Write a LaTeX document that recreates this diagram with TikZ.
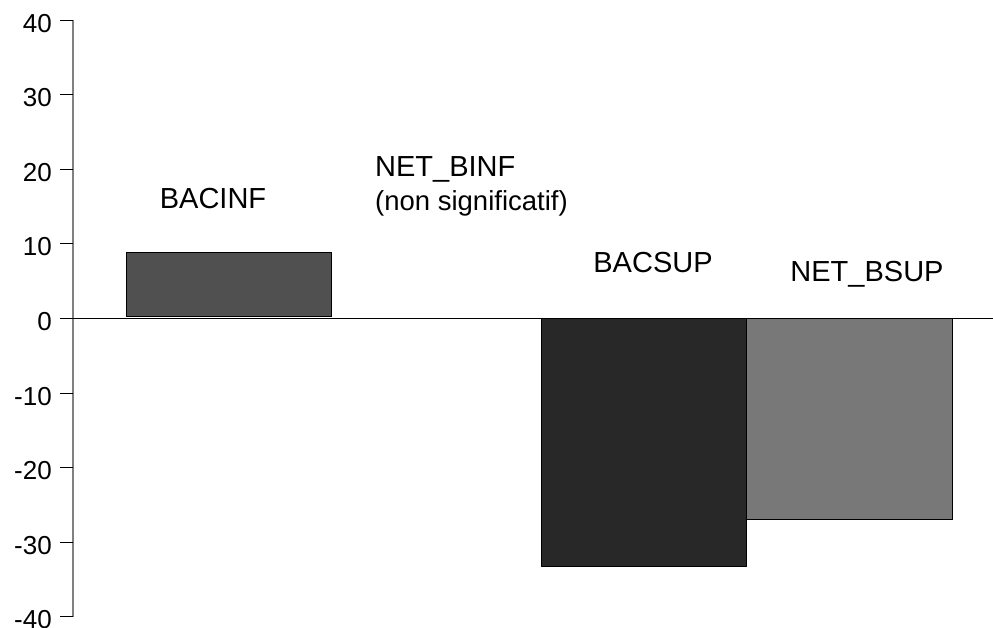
\documentclass[tikz,border=0pt]{standalone}
\usepackage{fontspec}
\setmainfont{Liberation Sans}
\usetikzlibrary{calc}

\begin{document}
\begin{tikzpicture}[x=1pt,y=7.46pt,
	bar/.style={draw=black, line width=0.8pt},
	barlabel/.style={anchor=base, inner sep=0pt, font=\fontsize{29}{34}\selectfont},
	ticklabel/.style={anchor=east, inner sep=0pt, font=\fontsize{26}{30}\selectfont}]
	\useasboundingbox (-73, 42.69) rectangle (920, -41.49);
	\coordinate (O) at (0, 0);
	\coordinate (ytop) at (0, 40);
	\coordinate (ybot) at (0, -40);
	\coordinate (xend) at (920, 0);
	% Axes
	\draw[line width=1.2pt, gray] (ytop) -- (ybot);
	\foreach \v in {-40,-30,...,40}{
		\draw[line width=1pt] (-13, \v) -- (0, \v);
		\node[ticklabel] (t\v) at (-21, \v-0.4) {\v};
	}
	% Bars
	\fill[fill={rgb,255:red,80;green,80;blue,80}, bar] (53, 0.3) rectangle (258, 8.9);
	\fill[fill={rgb,255:red,40;green,40;blue,40}, bar] (468, 0) rectangle (673, -33.2);
	\fill[fill={rgb,255:red,120;green,120;blue,120}, bar] (673.7, 0) rectangle (879, -26.9);
	\draw[line width=1pt] (O) -- (xend);
	% Labels
	\node[barlabel] (bacinf) at (140, 14.68) {BACINF};
	\node[barlabel, anchor=base west] (netbinf) at (302, 18.97) {NET\_BINF};
	\node[barlabel, anchor=base west, font=\fontsize{27.5}{32}\selectfont] (nonsig) at (302, 14.54) {(non significatif)};
	\node[barlabel] (bacsup) at (580, 6.1) {BACSUP};
	\node[barlabel] (netbsup) at (794, 4.9) {NET\_BSUP};
\end{tikzpicture}
\end{document}
